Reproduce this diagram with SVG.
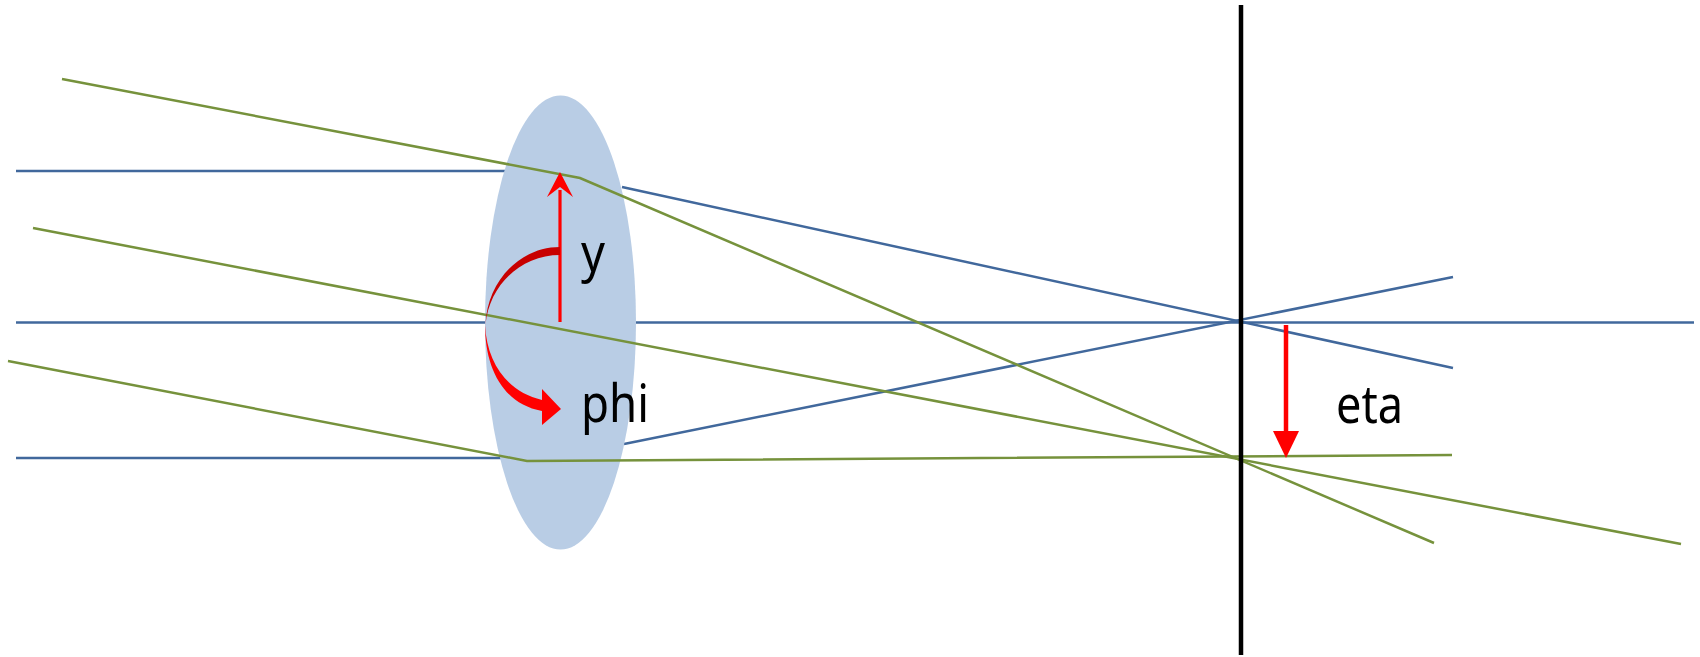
<svg xmlns="http://www.w3.org/2000/svg" width="1700" height="657" viewBox="0 0 1700 657">
<style>
.blue{fill:none;stroke:#41689c;stroke-width:2.500}
.green{fill:none;stroke:#76923c;stroke-width:2.500}
.label{font-family:"Noto Sans","Open Sans",sans-serif;font-size:52px;fill:#000}
</style>
<rect width="1700" height="657" fill="#fff"/>
<g id="rays-blue" class="connectors">
<path class="blue" d="M16 171H505"/>
<path class="blue" d="M622 187L1453 368"/>
<path class="blue" d="M16 322.500H1694"/>
<path class="blue" d="M16 458H505"/>
<path class="blue" d="M624 444L1453 277"/>
</g>
<g id="lens"><ellipse cx="560.500" cy="322.500" rx="75.500" ry="227" fill="#b9cde5"/></g>
<g id="rays-green" class="connectors">
<path class="green" d="M62 79L580 178L1434 543"/>
<path class="green" d="M33 228L1681 544"/>
<path class="green" d="M8 361L527 461L1452 455"/>
</g>
<g id="sensor"><path d="M1241 5V655" stroke="#000" stroke-width="4.500" fill="none"/></g>
<g id="y-arrow">
<path d="M560 322V190" stroke="#f00" stroke-width="3.200" fill="none"/>
<path d="M560 172L573 197L560 187L547 197Z" fill="#f00"/>
<text class="label" x="581" y="271" textLength="24" lengthAdjust="spacingAndGlyphs">y</text>
</g>
<g id="phi-arc-dark"><path d="M560 247V255C521 255 489 285 485.500 325C487 281 520 247 560 247Z" fill="#c80000"/></g>
<g id="phi-arrow">
<path d="M485 325C487 364 508 392 542 400V389L561 409L542 425V411C503 404 485 368 485 325Z" fill="#f00"/>
<text class="label" x="581" y="422" textLength="68" lengthAdjust="spacingAndGlyphs">phi</text>
</g>
<g id="eta-arrow">
<path d="M1286 325V432" stroke="#f00" stroke-width="4.500" fill="none"/>
<path d="M1286 458L1273 431H1299Z" fill="#f00"/>
<text class="label" x="1336" y="423" textLength="67" lengthAdjust="spacingAndGlyphs">eta</text>
</g>
</svg>
